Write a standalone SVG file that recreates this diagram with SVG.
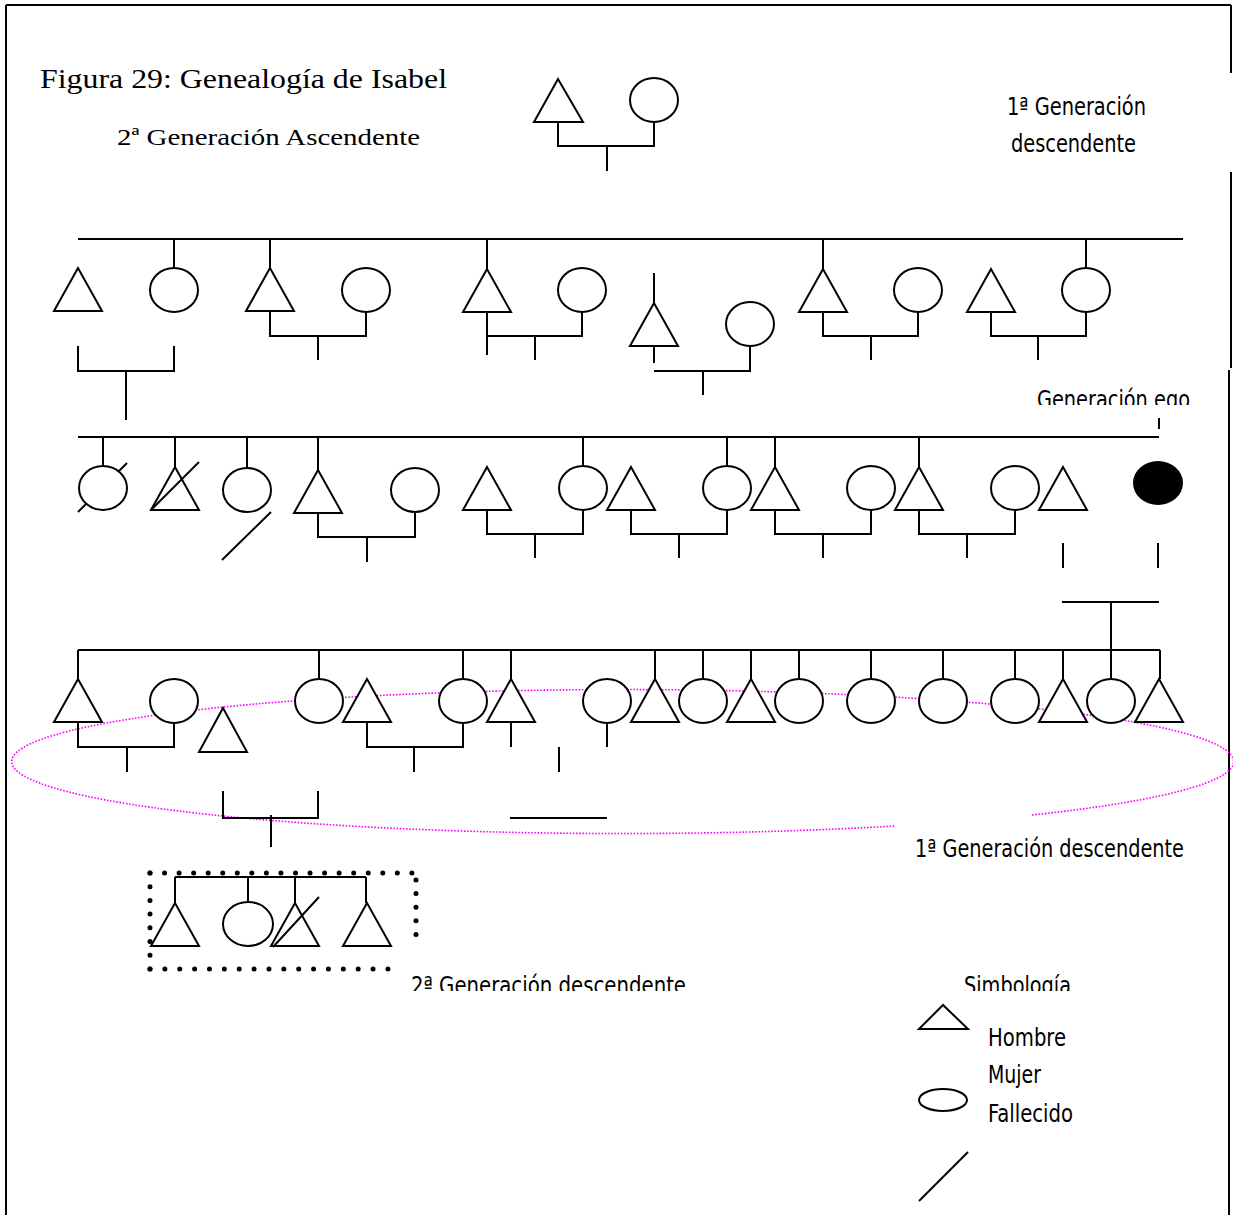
<svg xmlns="http://www.w3.org/2000/svg" xmlns:xlink="http://www.w3.org/1999/xlink" width="1233" height="1215" viewBox="0 0 1233 1215">
<style>
.l{stroke:#000;stroke-width:2;fill:none}
.s{stroke:#000;stroke-width:2;fill:#fff}
.f{stroke:#000;stroke-width:2;fill:none}
.serif{font-family:"Liberation Serif","Times New Roman",serif;fill:#000}
.nar{font-family:"Liberation Sans Narrow","DejaVu Sans Condensed","Roboto Condensed",sans-serif;font-size:25px;fill:#000}
.dots{stroke:#000;stroke-width:5;stroke-linecap:round;fill:none}
</style>
<defs>
<polygon id="tri" points="0,0 -24,43 24,43" class="s"/>
<ellipse id="circ" cx="0" cy="0" rx="24" ry="22" class="s"/>
<clipPath id="cEgo"><rect x="1025" y="375" width="180" height="30"/></clipPath>
<clipPath id="cG2"><rect x="400" y="960" width="300" height="31"/></clipPath>
<clipPath id="cSim"><rect x="955" y="960" width="130" height="31"/></clipPath>
</defs>
<rect width="1233" height="1215" fill="#fff"/>
<g id="frame">
<path class="f" d="M6,5 H1231 M6,5 V1215 M1231,5 V73 M1231,172 V368 M1229,370 V1215"/>
</g>
<g id="labels">
<text class="serif" x="40" y="88" font-size="27" textLength="407" lengthAdjust="spacingAndGlyphs">Figura 29: Genealogía de Isabel</text>
<text class="serif" x="117" y="145" font-size="24" textLength="303" lengthAdjust="spacingAndGlyphs">2ª Generación Ascendente</text>
<text class="nar" x="1007" y="115" textLength="139" lengthAdjust="spacingAndGlyphs">1ª Generación</text>
<text class="nar" x="1011" y="152" textLength="125" lengthAdjust="spacingAndGlyphs">descendente</text>
<g clip-path="url(#cEgo)"><text class="nar" x="1037" y="408" textLength="153" lengthAdjust="spacingAndGlyphs">Generación ego</text></g>
<text class="nar" x="915" y="857" textLength="269" lengthAdjust="spacingAndGlyphs">1ª Generación descendente</text>
<g clip-path="url(#cG2)"><text class="nar" x="411" y="994" textLength="275" lengthAdjust="spacingAndGlyphs">2ª Generación descendente</text></g>
<g clip-path="url(#cSim)"><text class="nar" x="964" y="994" textLength="107" lengthAdjust="spacingAndGlyphs">Simbología</text></g>
<text class="nar" x="988" y="1046" textLength="78" lengthAdjust="spacingAndGlyphs">Hombre</text>
<text class="nar" x="988" y="1083" textLength="53" lengthAdjust="spacingAndGlyphs">Mujer</text>
<text class="nar" x="988" y="1122" textLength="85" lengthAdjust="spacingAndGlyphs">Fallecido</text>
</g>
<g id="ellipse-gen1">
<path d="M1032,815 A611,72 0 1 0 895,826" fill="none" stroke="#ff00ff" stroke-width="1.6" stroke-dasharray="1.6 1.6"/>
</g>
<g id="connectors">
<path class="l" d="M558,122 V146 H654 V122 M607,146 V171"/>
<path class="l" d="M78,239 H1183"/>
<path class="l" d="M174,239 V268 M78,346 V371 H174 V346 M126,371 V420"/>
<path class="l" d="M270,239 V268 M270,312 V336 H366 V312 M318,336 V360"/>
<path class="l" d="M487,239 V269 M487,312 V355 M487,336 H582 V312 M535,336 V360"/>
<path class="l" d="M654,273 V303 M654,347 V363 M654,371 H750 V346 M703,371 V395"/>
<path class="l" d="M823,239 V269 M823,312 V336 H918 V312 M871,336 V360"/>
<path class="l" d="M1086,239 V268 M991,312 V336 H1086 V312 M1038,336 V360"/>
<path class="l" d="M1159,418 V429 M78,437 H1159"/>
<path class="l" d="M103,437 V466 M78,512 L127,463 M175,437 V467 M247,437 V468 M222,560 L271,512"/>
<path class="l" d="M318,437 V470 M318,513 V537 H415 V512 M367,537 V562"/>
<path class="l" d="M583,437 V466 M487,510 V534 H583 V510 M535,534 V558"/>
<path class="l" d="M727,437 V466 M631,510 V534 H727 V510 M679,534 V558"/>
<path class="l" d="M775,437 V467 M775,510 V534 H871 V510 M823,534 V558"/>
<path class="l" d="M919,437 V467 M919,510 V534 H1015 V510 M967,534 V558"/>
<path class="l" d="M1063,543 V568 M1158,543 V568 M1062,602 H1159 M1111,602 V679"/>
<path class="l" d="M78,650 H1160"/>
<path class="l" d="M78,650 V679 M78,723 V747 H174 V723 M127,747 V772"/>
<path class="l" d="M223,791 V818 H318 V791 M271,815 V847"/>
<path class="l" d="M319,650 V679 M463,650 V679 M367,723 V747 H463 V723 M414,747 V772"/>
<path class="l" d="M511,650 V679 M511,723 V747 M559,747 V772 M510,818 H607 M607,723 V747"/>
<path class="l" d="M655,650 V679 M703,650 V679 M751,650 V679 M799,650 V679 M871,650 V679 M943,650 V679 M1015,650 V679 M1063,650 V679 M1160,650 V679"/>
<path class="l" d="M175,877 H366 M175,877 V903 M248,877 V902 M295,877 V903 M366,877 V903"/>
</g>
<g id="gen-asc">
<g id="n-abuelo"><polygon class="s" points="558,79 534,122 583,122"/></g>
<g id="n-abuela"><ellipse class="s" cx="654" cy="100" rx="24" ry="22"/></g>
</g>
<g id="gen-padres">
<g id="p1"><use href="#tri" x="78" y="268"/></g>
<g id="p2"><use href="#circ" x="174" y="290"/></g>
<g id="p3"><use href="#tri" x="270" y="268"/></g>
<g id="p4"><use href="#circ" x="366" y="290"/></g>
<g id="p5"><use href="#tri" x="487" y="269"/></g>
<g id="p6"><use href="#circ" x="582" y="290"/></g>
<g id="p7"><use href="#tri" x="654" y="303"/></g>
<g id="p8"><use href="#circ" x="750" y="324"/></g>
<g id="p9"><use href="#tri" x="823" y="269"/></g>
<g id="p10"><use href="#circ" x="918" y="290"/></g>
<g id="p11"><use href="#tri" x="991" y="269"/></g>
<g id="p12"><use href="#circ" x="1086" y="290"/></g>
</g>
<g id="gen-ego">
<g id="e1"><use href="#circ" x="103" y="488"/></g>
<g id="e2"><use href="#tri" x="175" y="467"/><line class="l" x1="151" y1="510" x2="199" y2="462"/></g>
<g id="e3"><use href="#circ" x="247" y="490"/></g>
<g id="e4"><use href="#tri" x="318" y="470"/></g>
<g id="e5"><use href="#circ" x="415" y="490"/></g>
<g id="e6"><use href="#tri" x="487" y="467"/></g>
<g id="e7"><use href="#circ" x="583" y="488"/></g>
<g id="e8"><use href="#tri" x="631" y="467"/></g>
<g id="e9"><use href="#circ" x="727" y="488"/></g>
<g id="e10"><use href="#tri" x="775" y="467"/></g>
<g id="e11"><use href="#circ" x="871" y="488"/></g>
<g id="e12"><use href="#tri" x="919" y="467"/></g>
<g id="e13"><use href="#circ" x="1015" y="488"/></g>
<g id="e14"><use href="#tri" x="1063" y="467"/></g>
<g id="ego"><ellipse cx="1158" cy="483" rx="25" ry="22" fill="#000"/></g>
</g>
<g id="gen-desc1">
<g id="d1"><use href="#tri" x="78" y="679"/></g>
<g id="d2"><use href="#circ" x="174" y="701"/></g>
<g id="d3"><polygon class="s" points="223,708 199,752 247,752"/></g>
<g id="d4"><use href="#circ" x="319" y="701"/></g>
<g id="d5"><use href="#tri" x="367" y="679"/></g>
<g id="d6"><use href="#circ" x="463" y="701"/></g>
<g id="d7"><use href="#tri" x="511" y="679"/></g>
<g id="d8"><use href="#circ" x="607" y="701"/></g>
<g id="d9"><use href="#tri" x="655" y="679"/></g>
<g id="d10"><use href="#circ" x="703" y="701"/></g>
<g id="d11"><use href="#tri" x="751" y="679"/></g>
<g id="d12"><use href="#circ" x="799" y="701"/></g>
<g id="d13"><use href="#circ" x="871" y="701"/></g>
<g id="d14"><use href="#circ" x="943" y="701"/></g>
<g id="d15"><use href="#circ" x="1015" y="701"/></g>
<g id="d16"><use href="#tri" x="1063" y="679"/></g>
<g id="d17"><use href="#circ" x="1111" y="701"/></g>
<g id="d18"><use href="#tri" x="1159" y="679"/></g>
</g>
<g id="gen-desc2">
<path class="dots" d="M150,873 H412" stroke-dasharray="0 14.55"/>
<path class="dots" d="M150,873 V969" stroke-dasharray="0 13.7"/>
<path class="dots" d="M150,969 H388" stroke-dasharray="0 14.87"/>
<path class="dots" d="M416,880 V948" stroke-dasharray="0 13.6"/>
<g id="g1"><polygon class="s" points="175,903 151,946 199,946"/></g>
<g id="g2"><ellipse class="s" cx="248" cy="924" rx="25" ry="22"/></g>
<g id="g3"><polygon class="s" points="295,903 271,946 319,946"/><line class="l" x1="273" y1="947" x2="319" y2="897"/></g>
<g id="g4"><polygon class="s" points="367,903 343,946 391,946"/></g>
</g>
<g id="legend">
<polygon class="s" points="943,1005 919,1029 968,1029"/>
<ellipse class="s" cx="943" cy="1100" rx="24" ry="11"/>
<line class="l" x1="919" y1="1201" x2="968" y2="1152"/>
</g>
</svg>
